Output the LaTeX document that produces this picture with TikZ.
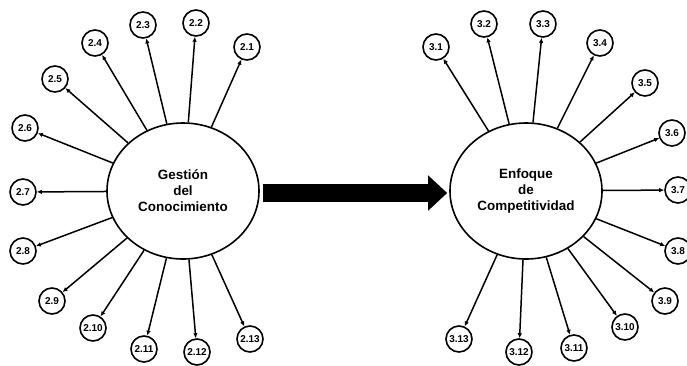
\documentclass[tikz,border=0pt]{standalone}
\usepackage{fontspec}
\setmainfont{Liberation Sans}
\usetikzlibrary{arrows,arrows.meta,shapes.geometric}

\begin{document}
\begin{tikzpicture}[
        x=1bp, y=-1bp,
        var/.style={ellipse, draw, line width=1.6bp, minimum width=152bp,
            minimum height=136bp, inner sep=0pt, align=center,
            font=\fontsize{13.5}{16}\selectfont\bfseries},
        ind/.style={circle, draw, line width=1.6bp, minimum size=26bp,
            inner sep=0pt, font=\fontsize{10}{11}\selectfont\bfseries},
        rel/.style={line width=1.5bp, -{Latex[length=5bp,width=4.5bp]}},
        flow/.style={line width=18bp, -{Triangle[length=19bp,width=34bp]},
            shorten <=3bp, shorten >=2bp},
    ]
    \useasboundingbox (0,0) rectangle (687,365);
    % the two variables
    \node[var] (gc) at (183,191) {Gestión\\del\\Conocimiento};
    \node[var] (ec) at (526,191) {Enfoque\\de\\Competitividad};
    \draw[flow] ([yshift=-2bp]gc.east) -- ([yshift=-2bp]ec.west);
    % indicators of 2
    \foreach \n/\x/\y in {1/247/47, 2/196/23, 3/143/25, 4/95/43, 5/55/79,
            6/25/128, 7/23/192, 8/23/251, 9/52/301, 10/93/328,
            11/144/349, 12/197/352, 13/250/339}
        \node[ind] (g\n) at (\x,\y) {2.\n};
    % indicators of 3
    \foreach \n/\x/\y in {1/436/47, 2/484/24, 3/543/24, 4/600/43, 5/645/83,
            6/672/133, 7/678/190, 8/678/251, 9/665/301, 10/625/327,
            11/574/348, 12/519/352, 13/459/339}
        \node[ind] (e\n) at (\x,\y) {3.\n};
    \foreach \n in {1,...,13} {
        \draw[rel] (gc) -- (g\n);
        \draw[rel] (ec) -- (e\n);
    }
\end{tikzpicture}
\end{document}
